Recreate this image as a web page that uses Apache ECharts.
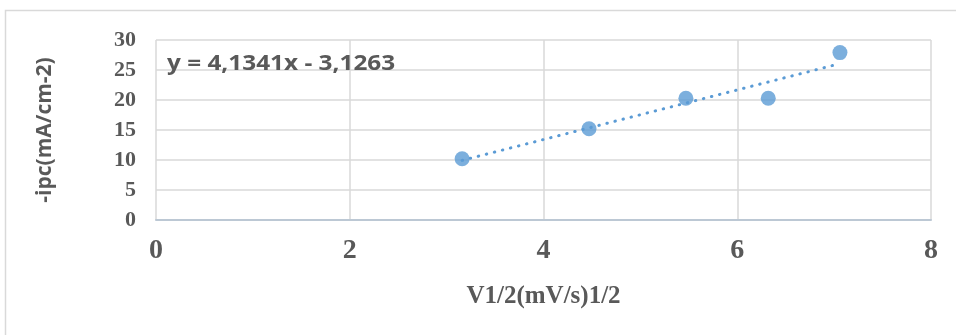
<!DOCTYPE html>
<html>
<head>
<meta charset="utf-8">
<script src="https://cdn.jsdelivr.net/npm/echarts@6/dist/echarts.min.js"></script>
<style>
html,body{margin:0;padding:0;background:#fff;}
#c{width:956px;height:335px;}
</style>
</head>
<body>
<div id="c"></div>
<script>
// Data
const xValues = [3.16, 4.47, 5.47, 6.32, 7.06];
const yValues = [10.2, 15.2, 20.3, 20.3, 27.9];
const slope = 4.1341;
const intercept = -3.1263;
const equationText = 'y = 4,1341x - 3,1263';
const xTicks = [0, 2, 4, 6, 8];
const yTicks = [0, 5, 10, 15, 20, 25, 30];
const xTitle = 'V1/2(mV/s)1/2';
const yTitle = '-ipc(mA/cm-2)';

const points = xValues.map((x, i) => [x, yValues[i]]);
const xMin = Math.min(...xValues), xMax = Math.max(...xValues);
const trend = [[xMin, slope * xMin + intercept], [xMax, slope * xMax + intercept]];

const chart = echarts.init(document.getElementById('c'));
const serifBold = {fontFamily: '"Liberation Serif", "Times New Roman", serif', fontWeight: 'bold', color: '#595959'};
chart.setOption({
  animation: false,
  grid: {left: 156, right: 25, top: 40, bottom: 115},
  graphic: [
    {type: 'rect', shape: {x: 5.5, y: 10.5, width: 1000, height: 400},
     style: {fill: 'none', stroke: '#d9d9d9', lineWidth: 1.5}, silent: true},
    {type: 'text', x: 167, y: 54, scaleX: 1.16, z: 10,
     style: {text: equationText, fontFamily: '"Open Sans", "Liberation Sans", sans-serif',
             fontWeight: 'bold', fontSize: 21, fill: '#595959'}}
  ],
  xAxis: {
    type: 'value', min: xTicks[0], max: xTicks[xTicks.length - 1], interval: 2,
    name: xTitle, nameLocation: 'middle', nameGap: 64,
    nameTextStyle: Object.assign({fontSize: 25}, serifBold),
    axisLine: {show: true, onZero: false, lineStyle: {color: '#bcc8d4', width: 2}},
    axisTick: {show: false},
    axisLabel: Object.assign({fontSize: 28, margin: 17}, serifBold),
    splitLine: {show: true, lineStyle: {color: '#d9d9d9', width: 1.5}}
  },
  yAxis: {
    type: 'value', min: yTicks[0], max: yTicks[yTicks.length - 1], interval: 5,
    name: yTitle, nameLocation: 'middle', nameGap: 100, nameRotate: 90,
    nameTextStyle: {fontFamily: '"Open Sans", "Liberation Sans", sans-serif', fontWeight: 'bold', fontSize: 21, color: '#595959'},
    axisLine: {show: false}, axisTick: {show: false},
    axisLabel: Object.assign({fontSize: 22, margin: 20}, serifBold),
    splitLine: {show: true, lineStyle: {color: '#d9d9d9', width: 1.5}}
  },
  series: [
    {type: 'line', data: trend, symbol: 'none', silent: true,
     lineStyle: {color: '#5b9bd5', width: 3, type: [0.5, 7.8], cap: 'round'}, z: 2},
    {type: 'scatter', data: points, symbol: 'circle', symbolSize: 15,
     itemStyle: {color: '#5b9bd5'}, z: 3}
  ]
});
</script>
</body>
</html>
